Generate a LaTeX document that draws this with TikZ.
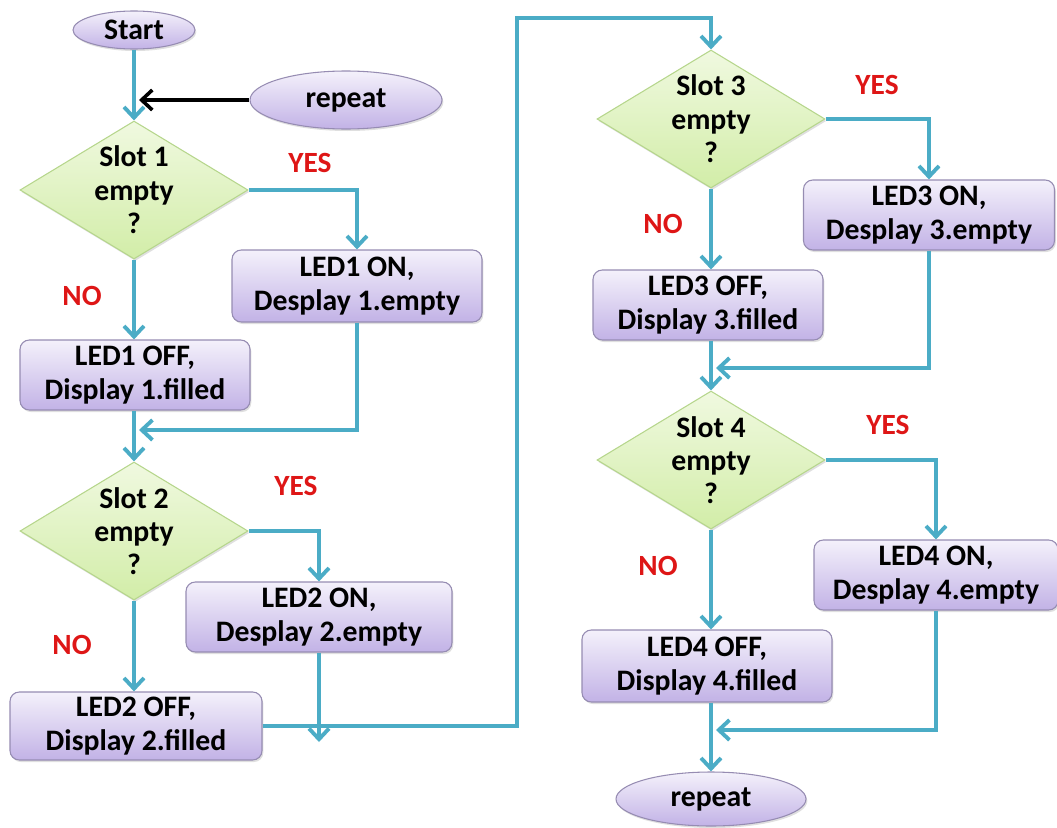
\documentclass[tikz,border=0pt]{standalone}
\usepackage{fontspec}
\setmainfont{Carlito}
\usetikzlibrary{shapes.geometric,arrows.meta,shadows}

\definecolor{flowc}{RGB}{75,172,198}
\definecolor{boxtop}{RGB}{244,241,251}
\definecolor{boxbot}{RGB}{194,178,230}
\definecolor{boxline}{RGB}{150,140,178}
\definecolor{dtop}{RGB}{240,249,224}
\definecolor{dbot}{RGB}{210,237,168}
\definecolor{dline}{RGB}{182,214,140}
\definecolor{lblred}{RGB}{222,22,22}

\begin{document}
\begin{tikzpicture}[x=0.75pt,y=-0.75pt,
  txt/.style={font=\fontsize{22.3}{25}\selectfont\bfseries, text=black, align=center},
  sz/.style 2 args={minimum width={#1*0.75pt}, minimum height={#2*0.75pt}},
  shade/.style={drop shadow={opacity=0.25, shadow xshift=1pt, shadow yshift=-1.5pt}},
  procbox/.style={txt, rectangle, draw=boxline, line width=0.8pt, rounded corners=7pt,
     top color=boxtop, bottom color=boxbot, inner sep=0pt, shade},
  term/.style={txt, ellipse, draw=boxline, line width=0.8pt,
     top color=boxtop, bottom color=boxbot, inner sep=0pt, shade},
  decision/.style={diamond, draw=dline, line width=0.8pt, top color=dtop, bottom color=dbot,
     inner sep=0pt, shade},
  lbl/.style={font=\fontsize{22}{24}\selectfont\bfseries, text=lblred},
  flow/.style={draw=flowc, line width=2.9pt, -{Straight Barb[length=8pt,width=15pt]}},
  blk/.style={draw=black, line width=2.7pt, -{Straight Barb[length=8pt,width=15pt]}}
]
\useasboundingbox (0,0) rectangle (1057,828);

% ---------- left column ----------
\node[term, sz={122}{38}] (start) at (134,30) {Start};
\node[term, sz={192}{58}] (rep1) at (346,100) {repeat};
\coordinate (j0) at (139,100);

\node[decision, sz={228}{138}] (d1) at (134,190) {};
\node[txt] (d1t) at (134,190) {Slot 1\\empty\\?};
\node[procbox, sz={250}{72}] (on1) at (357,286) {LED1 ON,\\Desplay 1.empty};
\node[procbox, sz={230}{70}] (off1) at (135,375) {LED1 OFF,\\Display 1.filled};
\node[lbl] (yes1) at (310,163) {YES};
\node[lbl] (no1) at (82,296) {NO};
\coordinate (m1) at (139,430);

\node[decision, sz={228}{138}] (d2) at (134,531) {};
\node[txt] (d2t) at (134,531) {Slot 2\\empty\\?};
\node[procbox, sz={266}{70}] (on2) at (319,617) {LED2 ON,\\Desplay 2.empty};
\node[procbox, sz={252}{68}] (off2) at (136,726) {LED2 OFF,\\Display 2.filled};
\node[lbl] (yes2) at (296,486) {YES};
\node[lbl] (no2) at (72,645) {NO};
\coordinate (m2) at (319,742);
\coordinate (c1) at (517,18);

% ---------- right column ----------
\node[decision, sz={228}{138}] (d3) at (711,119) {};
\node[txt] (d3t) at (711,119) {Slot 3\\empty\\?};
\node[procbox, sz={251}{70}] (on3) at (929,215) {LED3 ON,\\Desplay 3.empty};
\node[procbox, sz={230}{70}] (off3) at (708,305) {LED3 OFF,\\Display 3.filled};
\node[lbl] (yes3) at (877,85) {YES};
\node[lbl] (no3) at (663,224) {NO};
\coordinate (m3) at (716,368);

\node[decision, sz={228}{138}] (d4) at (711,460) {};
\node[txt] (d4t) at (711,460) {Slot 4\\empty\\?};
\node[procbox, sz={244}{70}] (on4) at (936,575) {LED4 ON,\\Desplay 4.empty};
\node[procbox, sz={250}{72}] (off4) at (707,666) {LED4 OFF,\\Display 4.filled};
\node[lbl] (yes4) at (888,425) {YES};
\node[lbl] (no4) at (658,566) {NO};
\coordinate (m4) at (716,730);
\node[term, sz={190}{54}] (rep2) at (711,799) {repeat};

% ---------- connectors ----------
\draw[flow] (start) -- (d1);
\draw[blk] (rep1.west) -- (j0);
\draw[flow] (d1.east) -| (on1.north);
\draw[flow] (d1.south) -- (d1.south |- off1.north);
\draw[flow] (on1.south) |- (m1);
\draw[flow] (d2.north |- off1.south) -- (d2.north);
\draw[flow] (d2.east) -| (on2.north);
\draw[flow] (d2.south) -- (d2.south |- off2.north);
\draw[flow] (on2.south) -- (m2);
\draw[flow] (off2.east) -| (c1) -| (d3.north);

\draw[flow] (d3.east) -| (on3.north);
\draw[flow] (d3.south) -- (d3.south |- off3.north);
\draw[flow] (on3.south) |- (m3);
\draw[flow] (d4.north |- off3.south) -- (d4.north);
\draw[flow] (d4.east) -| (on4.north);
\draw[flow] (d4.south) -- (d4.south |- off4.north);
\draw[flow] (on4.south) |- (m4);
\draw[flow] (rep2.north |- off4.south) -- (rep2.north);
\end{tikzpicture}
\end{document}
